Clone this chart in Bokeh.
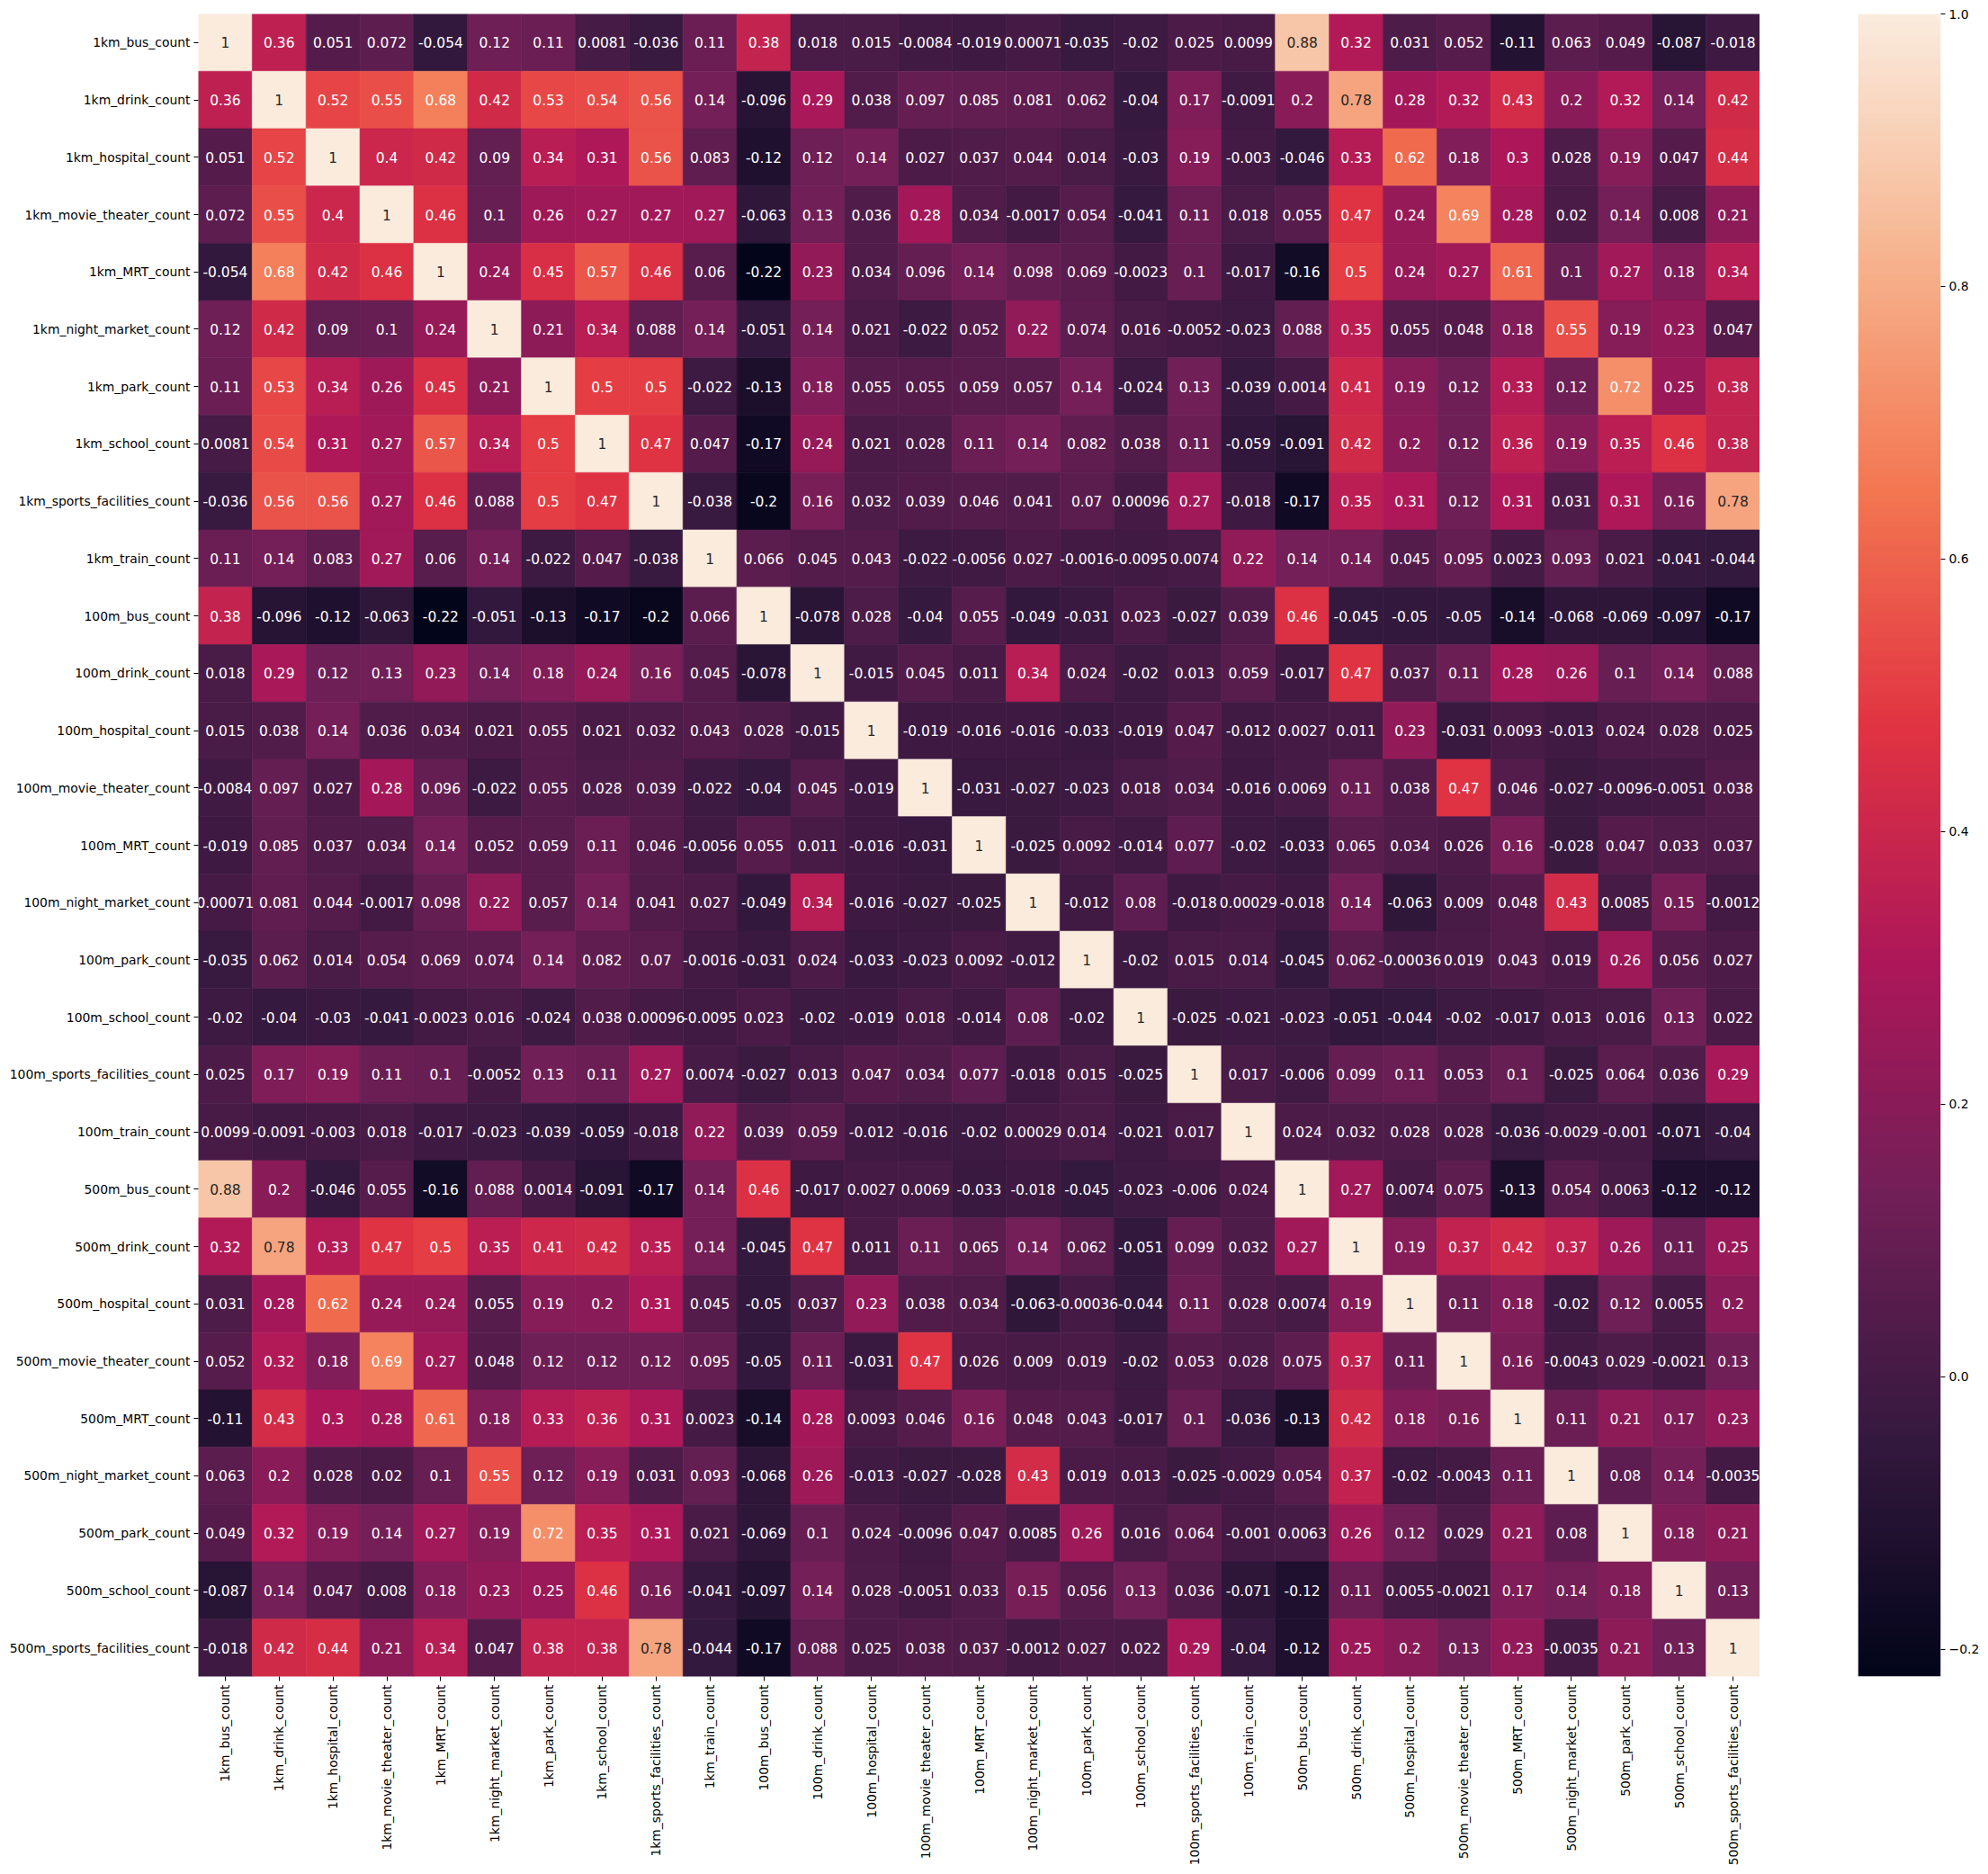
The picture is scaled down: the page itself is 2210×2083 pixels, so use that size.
import math
import numpy as np
from bokeh.plotting import figure
from bokeh.models import (ColumnDataSource, LinearColorMapper, FixedTicker,
                          CustomJSTickFormatter, Range1d, FactorRange)
from bokeh.layouts import row
from bokeh.embed import file_html
from bokeh.resources import INLINE
from bokeh.core.properties import value

labels = [
    "1km_bus_count", "1km_drink_count", "1km_hospital_count", "1km_movie_theater_count",
    "1km_MRT_count", "1km_night_market_count", "1km_park_count", "1km_school_count",
    "1km_sports_facilities_count", "1km_train_count", "100m_bus_count", "100m_drink_count",
    "100m_hospital_count", "100m_movie_theater_count", "100m_MRT_count",
    "100m_night_market_count", "100m_park_count", "100m_school_count",
    "100m_sports_facilities_count", "100m_train_count", "500m_bus_count", "500m_drink_count",
    "500m_hospital_count", "500m_movie_theater_count", "500m_MRT_count",
    "500m_night_market_count", "500m_park_count", "500m_school_count",
    "500m_sports_facilities_count",
]

corr = [
    [1, 0.36, 0.051, 0.072, -0.054, 0.12, 0.11, 0.0081, -0.036, 0.11, 0.38, 0.018, 0.015, -0.0084, -0.019, 0.00071, -0.035, -0.02, 0.025, 0.0099, 0.88, 0.32, 0.031, 0.052, -0.11, 0.063, 0.049, -0.087, -0.018],
    [0.36, 1, 0.52, 0.55, 0.68, 0.42, 0.53, 0.54, 0.56, 0.14, -0.096, 0.29, 0.038, 0.097, 0.085, 0.081, 0.062, -0.04, 0.17, -0.0091, 0.2, 0.78, 0.28, 0.32, 0.43, 0.2, 0.32, 0.14, 0.42],
    [0.051, 0.52, 1, 0.4, 0.42, 0.09, 0.34, 0.31, 0.56, 0.083, -0.12, 0.12, 0.14, 0.027, 0.037, 0.044, 0.014, -0.03, 0.19, -0.003, -0.046, 0.33, 0.62, 0.18, 0.3, 0.028, 0.19, 0.047, 0.44],
    [0.072, 0.55, 0.4, 1, 0.46, 0.1, 0.26, 0.27, 0.27, 0.27, -0.063, 0.13, 0.036, 0.28, 0.034, -0.0017, 0.054, -0.041, 0.11, 0.018, 0.055, 0.47, 0.24, 0.69, 0.28, 0.02, 0.14, 0.008, 0.21],
    [-0.054, 0.68, 0.42, 0.46, 1, 0.24, 0.45, 0.57, 0.46, 0.06, -0.22, 0.23, 0.034, 0.096, 0.14, 0.098, 0.069, -0.0023, 0.1, -0.017, -0.16, 0.5, 0.24, 0.27, 0.61, 0.1, 0.27, 0.18, 0.34],
    [0.12, 0.42, 0.09, 0.1, 0.24, 1, 0.21, 0.34, 0.088, 0.14, -0.051, 0.14, 0.021, -0.022, 0.052, 0.22, 0.074, 0.016, -0.0052, -0.023, 0.088, 0.35, 0.055, 0.048, 0.18, 0.55, 0.19, 0.23, 0.047],
    [0.11, 0.53, 0.34, 0.26, 0.45, 0.21, 1, 0.5, 0.5, -0.022, -0.13, 0.18, 0.055, 0.055, 0.059, 0.057, 0.14, -0.024, 0.13, -0.039, 0.0014, 0.41, 0.19, 0.12, 0.33, 0.12, 0.72, 0.25, 0.38],
    [0.0081, 0.54, 0.31, 0.27, 0.57, 0.34, 0.5, 1, 0.47, 0.047, -0.17, 0.24, 0.021, 0.028, 0.11, 0.14, 0.082, 0.038, 0.11, -0.059, -0.091, 0.42, 0.2, 0.12, 0.36, 0.19, 0.35, 0.46, 0.38],
    [-0.036, 0.56, 0.56, 0.27, 0.46, 0.088, 0.5, 0.47, 1, -0.038, -0.2, 0.16, 0.032, 0.039, 0.046, 0.041, 0.07, 0.00096, 0.27, -0.018, -0.17, 0.35, 0.31, 0.12, 0.31, 0.031, 0.31, 0.16, 0.78],
    [0.11, 0.14, 0.083, 0.27, 0.06, 0.14, -0.022, 0.047, -0.038, 1, 0.066, 0.045, 0.043, -0.022, -0.0056, 0.027, -0.0016, -0.0095, 0.0074, 0.22, 0.14, 0.14, 0.045, 0.095, 0.0023, 0.093, 0.021, -0.041, -0.044],
    [0.38, -0.096, -0.12, -0.063, -0.22, -0.051, -0.13, -0.17, -0.2, 0.066, 1, -0.078, 0.028, -0.04, 0.055, -0.049, -0.031, 0.023, -0.027, 0.039, 0.46, -0.045, -0.05, -0.05, -0.14, -0.068, -0.069, -0.097, -0.17],
    [0.018, 0.29, 0.12, 0.13, 0.23, 0.14, 0.18, 0.24, 0.16, 0.045, -0.078, 1, -0.015, 0.045, 0.011, 0.34, 0.024, -0.02, 0.013, 0.059, -0.017, 0.47, 0.037, 0.11, 0.28, 0.26, 0.1, 0.14, 0.088],
    [0.015, 0.038, 0.14, 0.036, 0.034, 0.021, 0.055, 0.021, 0.032, 0.043, 0.028, -0.015, 1, -0.019, -0.016, -0.016, -0.033, -0.019, 0.047, -0.012, 0.0027, 0.011, 0.23, -0.031, 0.0093, -0.013, 0.024, 0.028, 0.025],
    [-0.0084, 0.097, 0.027, 0.28, 0.096, -0.022, 0.055, 0.028, 0.039, -0.022, -0.04, 0.045, -0.019, 1, -0.031, -0.027, -0.023, 0.018, 0.034, -0.016, 0.0069, 0.11, 0.038, 0.47, 0.046, -0.027, -0.0096, -0.0051, 0.038],
    [-0.019, 0.085, 0.037, 0.034, 0.14, 0.052, 0.059, 0.11, 0.046, -0.0056, 0.055, 0.011, -0.016, -0.031, 1, -0.025, 0.0092, -0.014, 0.077, -0.02, -0.033, 0.065, 0.034, 0.026, 0.16, -0.028, 0.047, 0.033, 0.037],
    [0.00071, 0.081, 0.044, -0.0017, 0.098, 0.22, 0.057, 0.14, 0.041, 0.027, -0.049, 0.34, -0.016, -0.027, -0.025, 1, -0.012, 0.08, -0.018, 0.00029, -0.018, 0.14, -0.063, 0.009, 0.048, 0.43, 0.0085, 0.15, -0.0012],
    [-0.035, 0.062, 0.014, 0.054, 0.069, 0.074, 0.14, 0.082, 0.07, -0.0016, -0.031, 0.024, -0.033, -0.023, 0.0092, -0.012, 1, -0.02, 0.015, 0.014, -0.045, 0.062, -0.00036, 0.019, 0.043, 0.019, 0.26, 0.056, 0.027],
    [-0.02, -0.04, -0.03, -0.041, -0.0023, 0.016, -0.024, 0.038, 0.00096, -0.0095, 0.023, -0.02, -0.019, 0.018, -0.014, 0.08, -0.02, 1, -0.025, -0.021, -0.023, -0.051, -0.044, -0.02, -0.017, 0.013, 0.016, 0.13, 0.022],
    [0.025, 0.17, 0.19, 0.11, 0.1, -0.0052, 0.13, 0.11, 0.27, 0.0074, -0.027, 0.013, 0.047, 0.034, 0.077, -0.018, 0.015, -0.025, 1, 0.017, -0.006, 0.099, 0.11, 0.053, 0.1, -0.025, 0.064, 0.036, 0.29],
    [0.0099, -0.0091, -0.003, 0.018, -0.017, -0.023, -0.039, -0.059, -0.018, 0.22, 0.039, 0.059, -0.012, -0.016, -0.02, 0.00029, 0.014, -0.021, 0.017, 1, 0.024, 0.032, 0.028, 0.028, -0.036, -0.0029, -0.001, -0.071, -0.04],
    [0.88, 0.2, -0.046, 0.055, -0.16, 0.088, 0.0014, -0.091, -0.17, 0.14, 0.46, -0.017, 0.0027, 0.0069, -0.033, -0.018, -0.045, -0.023, -0.006, 0.024, 1, 0.27, 0.0074, 0.075, -0.13, 0.054, 0.0063, -0.12, -0.12],
    [0.32, 0.78, 0.33, 0.47, 0.5, 0.35, 0.41, 0.42, 0.35, 0.14, -0.045, 0.47, 0.011, 0.11, 0.065, 0.14, 0.062, -0.051, 0.099, 0.032, 0.27, 1, 0.19, 0.37, 0.42, 0.37, 0.26, 0.11, 0.25],
    [0.031, 0.28, 0.62, 0.24, 0.24, 0.055, 0.19, 0.2, 0.31, 0.045, -0.05, 0.037, 0.23, 0.038, 0.034, -0.063, -0.00036, -0.044, 0.11, 0.028, 0.0074, 0.19, 1, 0.11, 0.18, -0.02, 0.12, 0.0055, 0.2],
    [0.052, 0.32, 0.18, 0.69, 0.27, 0.048, 0.12, 0.12, 0.12, 0.095, -0.05, 0.11, -0.031, 0.47, 0.026, 0.009, 0.019, -0.02, 0.053, 0.028, 0.075, 0.37, 0.11, 1, 0.16, -0.0043, 0.029, -0.0021, 0.13],
    [-0.11, 0.43, 0.3, 0.28, 0.61, 0.18, 0.33, 0.36, 0.31, 0.0023, -0.14, 0.28, 0.0093, 0.046, 0.16, 0.048, 0.043, -0.017, 0.1, -0.036, -0.13, 0.42, 0.18, 0.16, 1, 0.11, 0.21, 0.17, 0.23],
    [0.063, 0.2, 0.028, 0.02, 0.1, 0.55, 0.12, 0.19, 0.031, 0.093, -0.068, 0.26, -0.013, -0.027, -0.028, 0.43, 0.019, 0.013, -0.025, -0.0029, 0.054, 0.37, -0.02, -0.0043, 0.11, 1, 0.08, 0.14, -0.0035],
    [0.049, 0.32, 0.19, 0.14, 0.27, 0.19, 0.72, 0.35, 0.31, 0.021, -0.069, 0.1, 0.024, -0.0096, 0.047, 0.0085, 0.26, 0.016, 0.064, -0.001, 0.0063, 0.26, 0.12, 0.029, 0.21, 0.08, 1, 0.18, 0.21],
    [-0.087, 0.14, 0.047, 0.008, 0.18, 0.23, 0.25, 0.46, 0.16, -0.041, -0.097, 0.14, 0.028, -0.0051, 0.033, 0.15, 0.056, 0.13, 0.036, -0.071, -0.12, 0.11, 0.0055, -0.0021, 0.17, 0.14, 0.18, 1, 0.13],
    [-0.018, 0.42, 0.44, 0.21, 0.34, 0.047, 0.38, 0.38, 0.78, -0.044, -0.17, 0.088, 0.025, 0.038, 0.037, -0.0012, 0.027, 0.022, 0.29, -0.04, -0.12, 0.25, 0.2, 0.13, 0.23, -0.0035, 0.21, 0.13, 1],
]

colorbar_ticks = [-0.2, 0.0, 0.2, 0.4, 0.6, 0.8, 1.0]

# --- "rocket" colormap (seaborn) approximated from anchor colours ---
anchor_pos = [0.0, 1/7, 2/7, 3/7, 4/7, 5/7, 6/7, 1.0]
anchor_hex = ["#03051a", "#35193e", "#701f57", "#ad1759", "#e13342", "#f37651", "#f6b48f", "#faebdd"]
anchor_rgb = np.array([[int(h[i:i + 2], 16) for i in (1, 3, 5)] for h in anchor_hex], dtype=float)
tt = np.linspace(0, 1, 256)
pal_rgb = np.stack([np.interp(tt, anchor_pos, anchor_rgb[:, k]) for k in range(3)], axis=1)
palette = ["#%02x%02x%02x" % tuple(int(round(c)) for c in rgb) for rgb in pal_rgb]

vmin = min(min(r) for r in corr)
vmax = max(max(r) for r in corr)
mapper = LinearColorMapper(palette=palette, low=vmin, high=vmax)


def lum(rgb):
    out = []
    for c in rgb:
        c = c / 255.0
        out.append(c / 12.92 if c <= 0.03928 else ((c + 0.055) / 1.055) ** 2.4)
    return 0.2126 * out[0] + 0.7152 * out[1] + 0.0722 * out[2]


xs, ys, vals, texts, tcols = [], [], [], [], []
for i, rlab in enumerate(labels):
    for j, clab in enumerate(labels):
        v = corr[i][j]
        xs.append(clab)
        ys.append(rlab)
        vals.append(v)
        texts.append(format(v, ".2g"))
        idx = int(np.clip((v - vmin) / (vmax - vmin) * 255, 0, 255))
        tcols.append("#262626" if lum(pal_rgb[idx]) > 0.408 else "#ffffff")

src = ColumnDataSource(dict(x=xs, y=ys, v=vals, t=texts, tc=tcols))

FONT = "DejaVu Sans"

p = figure(x_range=FactorRange(factors=labels), y_range=FactorRange(factors=labels[::-1]),
           frame_width=1736, frame_height=1848,
           min_border_left=220, min_border_right=0, min_border_top=15, min_border_bottom=212,
           output_backend="svg", toolbar_location=None, tools="")
p.rect(x="x", y="y", width=1, height=1, source=src,
       fill_color={"field": "v", "transform": mapper},
       line_color={"field": "v", "transform": mapper}, line_width=0.6)
p.text(x="x", y="y", text="t", source=src, text_color="tc",
       text_align="center", text_baseline="middle",
       text_font=value(FONT), text_font_size="15.5px")

p.xaxis.major_label_orientation = math.pi / 2
for ax in (p.xaxis, p.yaxis):
    ax.axis_line_color = None
    ax.major_tick_line_color = "black"
    ax.major_tick_out = 5
    ax.major_tick_in = 0
    ax.minor_tick_line_color = None
    ax.major_label_standoff = 4
    ax.major_label_text_font = FONT
    ax.major_label_text_font_size = "13.9px"
    ax.major_label_text_color = "black"
p.grid.grid_line_color = None
p.outline_line_color = None
p.background_fill_color = "white"
p.border_fill_color = "white"

# --- colour bar ---
cb = figure(x_range=Range1d(0, 1), y_range=Range1d(vmin, vmax),
            frame_width=92, frame_height=1848,
            min_border_left=109, min_border_right=50, min_border_top=15, min_border_bottom=212,
            y_axis_location="right", x_axis_location=None,
            output_backend="svg", toolbar_location=None, tools="")
grad = np.linspace(vmin, vmax, 600).reshape(-1, 1)
cb.image(image=[grad], x=0, y=vmin, dw=1, dh=vmax - vmin, color_mapper=mapper)
cb.yaxis.ticker = FixedTicker(ticks=colorbar_ticks)
cb.yaxis.formatter = CustomJSTickFormatter(
    code="return (tick < -1e-9 ? '\u2212' : '') + Math.abs(tick).toFixed(1);")
cb.yaxis.axis_line_color = None
cb.yaxis.major_tick_line_color = "black"
cb.yaxis.major_tick_out = 5
cb.yaxis.major_tick_in = 0
cb.yaxis.minor_tick_line_color = None
cb.yaxis.major_label_standoff = 4
cb.yaxis.major_label_text_font = FONT
cb.yaxis.major_label_text_font_size = "13.9px"
cb.yaxis.major_label_text_color = "black"
cb.grid.grid_line_color = None
cb.outline_line_color = None
cb.background_fill_color = "white"
cb.border_fill_color = "white"

layout = row(p, cb)
open("out.html", "w").write(file_html(layout, INLINE))
